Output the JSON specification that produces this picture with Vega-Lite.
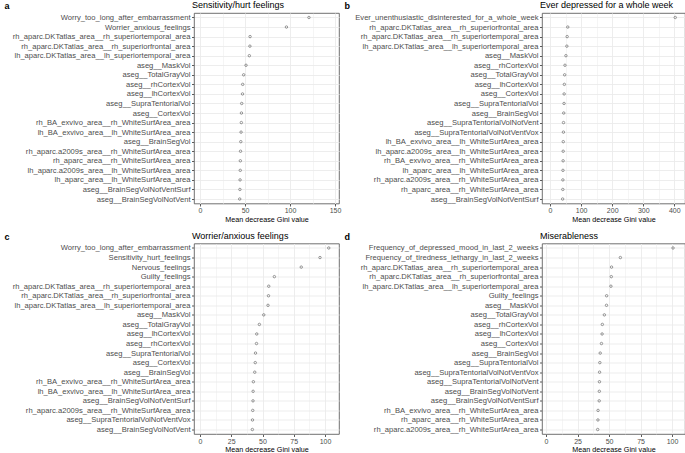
{
  "$schema": "https://vega.github.io/schema/vega-lite/v6.json",
  "padding": {"left": 3, "top": 0, "right": 0, "bottom": 0},
  "background": "white",
  "columns": 2,
  "bounds": "flush",
  "spacing": {"row": 39.5, "column": 203},
  "config": {
    "font": "Liberation Sans",
    "view": {"stroke": "#4d4d4d", "strokeWidth": 0.8},
    "axis": {
      "domain": false,
      "grid": true,
      "gridColor": "#ebebeb",
      "tickColor": "#333333",
      "tickSize": 2.5,
      "tickWidth": 0.8,
      "labelColor": "#4d4d4d",
      "labelFont": "Liberation Sans",
      "titleFont": "Liberation Sans",
      "titleFontWeight": "normal",
      "titleColor": "#000000"
    },
    "axisY": {
      "labelFontSize": 7.6,
      "labelPadding": 1.5,
      "labelLimit": 400,
      "gridWidth": 0.9,
      "titleAngle": 0,
      "titleAlign": "left",
      "titleBaseline": "middle",
      "titleFontWeight": "bold",
      "titleFontSize": 9,
      "titleY": -7.5
    },
    "axisX": {
      "labelFontSize": 7,
      "labelPadding": 0.5,
      "titleFontSize": 7.2,
      "titlePadding": 1.5
    },
    "title": {"anchor": "start", "frame": "group", "fontSize": 9, "fontWeight": "normal", "offset": -8.5, "baseline": "bottom", "color": "#000000", "dx": -2},
    "point": {"shape": "circle", "filled": false, "size": 6, "strokeWidth": 0.7, "color": "#333333"}
  },
  "datasets": {
    "a": [
      {"variable": "Worry_too_long_after_embarrassment", "gini": 121},
      {"variable": "Worrier_anxious_feelings", "gini": 96},
      {"variable": "rh_aparc.DKTatlas_area__rh_superiortemporal_area", "gini": 55.6},
      {"variable": "rh_aparc.DKTatlas_area__rh_superiorfrontal_area", "gini": 55.4},
      {"variable": "lh_aparc.DKTatlas_area__lh_superiortemporal_area", "gini": 54.8},
      {"variable": "aseg__MaskVol", "gini": 51.1},
      {"variable": "aseg__TotalGrayVol", "gini": 48.5},
      {"variable": "aseg__rhCortexVol", "gini": 47.4},
      {"variable": "aseg__lhCortexVol", "gini": 47.2},
      {"variable": "aseg__SupraTentorialVol", "gini": 46.3},
      {"variable": "aseg__CortexVol", "gini": 46.0},
      {"variable": "rh_BA_exvivo_area__rh_WhiteSurfArea_area", "gini": 45.9},
      {"variable": "lh_BA_exvivo_area__lh_WhiteSurfArea_area", "gini": 45.6},
      {"variable": "aseg__BrainSegVol", "gini": 45.3},
      {"variable": "rh_aparc.a2009s_area__rh_WhiteSurfArea_area", "gini": 45.0},
      {"variable": "rh_aparc_area__rh_WhiteSurfArea_area", "gini": 44.8},
      {"variable": "lh_aparc.a2009s_area__lh_WhiteSurfArea_area", "gini": 44.7},
      {"variable": "lh_aparc_area__lh_WhiteSurfArea_area", "gini": 44.5},
      {"variable": "aseg__BrainSegVolNotVentSurf", "gini": 44.3},
      {"variable": "aseg__BrainSegVolNotVent", "gini": 44.1}
    ],
    "b": [
      {"variable": "Ever_unenthusiastic_disinterested_for_a_whole_week", "gini": 403},
      {"variable": "rh_aparc.DKTatlas_area__rh_superiorfrontal_area", "gini": 57},
      {"variable": "rh_aparc.DKTatlas_area__rh_superiortemporal_area", "gini": 55},
      {"variable": "lh_aparc.DKTatlas_area__lh_superiortemporal_area", "gini": 54},
      {"variable": "aseg__MaskVol", "gini": 51},
      {"variable": "aseg__rhCortexVol", "gini": 48},
      {"variable": "aseg__TotalGrayVol", "gini": 47},
      {"variable": "aseg__lhCortexVol", "gini": 46},
      {"variable": "aseg__CortexVol", "gini": 45.3},
      {"variable": "aseg__SupraTentorialVol", "gini": 45},
      {"variable": "aseg__BrainSegVol", "gini": 44},
      {"variable": "aseg__SupraTentorialVolNotVent", "gini": 43.3},
      {"variable": "aseg__SupraTentorialVolNotVentVox", "gini": 43},
      {"variable": "lh_BA_exvivo_area__lh_WhiteSurfArea_area", "gini": 42.5},
      {"variable": "lh_aparc.a2009s_area__lh_WhiteSurfArea_area", "gini": 42.2},
      {"variable": "rh_BA_exvivo_area__rh_WhiteSurfArea_area", "gini": 42},
      {"variable": "lh_aparc_area__lh_WhiteSurfArea_area", "gini": 41.5},
      {"variable": "rh_aparc.a2009s_area__rh_WhiteSurfArea_area", "gini": 41.2},
      {"variable": "rh_aparc_area__rh_WhiteSurfArea_area", "gini": 41},
      {"variable": "aseg__BrainSegVolNotVentSurf", "gini": 40.5}
    ],
    "c": [
      {"variable": "Worry_too_long_after_embarrassment", "gini": 103},
      {"variable": "Sensitivity_hurt_feelings", "gini": 96},
      {"variable": "Nervous_feelings", "gini": 81},
      {"variable": "Guilty_feelings", "gini": 59.5},
      {"variable": "rh_aparc.DKTatlas_area__rh_superiortemporal_area", "gini": 55},
      {"variable": "rh_aparc.DKTatlas_area__rh_superiorfrontal_area", "gini": 54.8},
      {"variable": "lh_aparc.DKTatlas_area__lh_superiortemporal_area", "gini": 54.4},
      {"variable": "aseg__MaskVol", "gini": 51},
      {"variable": "aseg__TotalGrayVol", "gini": 47.5},
      {"variable": "aseg__lhCortexVol", "gini": 45.4},
      {"variable": "aseg__rhCortexVol", "gini": 45.2},
      {"variable": "aseg__SupraTentorialVol", "gini": 44.4},
      {"variable": "aseg__CortexVol", "gini": 44.2},
      {"variable": "aseg__BrainSegVol", "gini": 43.8},
      {"variable": "rh_BA_exvivo_area__rh_WhiteSurfArea_area", "gini": 42.7},
      {"variable": "lh_BA_exvivo_area__lh_WhiteSurfArea_area", "gini": 42.5},
      {"variable": "aseg__BrainSegVolNotVentSurf", "gini": 42.4},
      {"variable": "rh_aparc.a2009s_area__rh_WhiteSurfArea_area", "gini": 42.2},
      {"variable": "aseg__SupraTentorialVolNotVentVox", "gini": 42.0},
      {"variable": "aseg__BrainSegVolNotVent", "gini": 41.9}
    ],
    "d": [
      {"variable": "Frequency_of_depressed_mood_in_last_2_weeks", "gini": 100.8},
      {"variable": "Frequency_of_tiredness_lethargy_in_last_2_weeks", "gini": 59},
      {"variable": "rh_aparc.DKTatlas_area__rh_superiortemporal_area", "gini": 52},
      {"variable": "rh_aparc.DKTatlas_area__rh_superiorfrontal_area", "gini": 51.8},
      {"variable": "lh_aparc.DKTatlas_area__lh_superiortemporal_area", "gini": 51.5},
      {"variable": "Guilty_feelings", "gini": 48.1},
      {"variable": "aseg__MaskVol", "gini": 48},
      {"variable": "aseg__TotalGrayVol", "gini": 46.3},
      {"variable": "aseg__rhCortexVol", "gini": 44.7},
      {"variable": "aseg__lhCortexVol", "gini": 44.5},
      {"variable": "aseg__CortexVol", "gini": 44},
      {"variable": "aseg__BrainSegVol", "gini": 43},
      {"variable": "aseg__SupraTentorialVol", "gini": 42.7},
      {"variable": "aseg__SupraTentorialVolNotVentVox", "gini": 42.5},
      {"variable": "aseg__SupraTentorialVolNotVent", "gini": 42.4},
      {"variable": "aseg__BrainSegVolNotVent", "gini": 42.3},
      {"variable": "aseg__BrainSegVolNotVentSurf", "gini": 42.2},
      {"variable": "rh_BA_exvivo_area__rh_WhiteSurfArea_area", "gini": 41.3},
      {"variable": "rh_aparc_area__rh_WhiteSurfArea_area", "gini": 41.2},
      {"variable": "rh_aparc.a2009s_area__rh_WhiteSurfArea_area", "gini": 41}
    ]
  },
  "concat": [
    {
      "title": {"text": "Sensitivity/hurt feelings"},
      "width": 145, "height": 190.5,
      "data": {"name": "a"},
      "mark": {"type": "point"},
      "encoding": {
        "y": {"field": "variable", "type": "nominal", "sort": null, "scale": {"padding": 0.47},
              "axis": {"title": "a", "titleX": -190}},
        "x": {"field": "gini", "type": "quantitative", "scale": {"domain": [-6.7, 154.4], "nice": false, "zero": false},
              "axis": {"title": "Mean decrease Gini value", "values": [0, 25, 50, 75, 100, 125, 150],
                       "labelExpr": "datum.value % 50 === 0 ? datum.label : ''",
                       "tickOpacity": {"condition": {"test": "datum.value % 50 !== 0", "value": 0}, "value": 1},
                       "gridWidth": {"condition": {"test": "datum.value % 50 !== 0", "value": 0.5}, "value": 0.9}}}
      }
    },
    {
      "title": {"text": "Ever depressed for a whole week"},
      "width": 143, "height": 190.5,
      "data": {"name": "b"},
      "mark": {"type": "point"},
      "encoding": {
        "y": {"field": "variable", "type": "nominal", "sort": null, "scale": {"padding": 0.47},
              "axis": {"title": "b", "titleX": -198}},
        "x": {"field": "gini", "type": "quantitative", "scale": {"domain": [-26, 434.4], "nice": false, "zero": false},
              "axis": {"title": "Mean decrease Gini value", "values": [0, 50, 100, 150, 200, 250, 300, 350, 400],
                       "labelExpr": "datum.value % 100 === 0 ? datum.label : ''",
                       "tickOpacity": {"condition": {"test": "datum.value % 100 !== 0", "value": 0}, "value": 1},
                       "gridWidth": {"condition": {"test": "datum.value % 100 !== 0", "value": 0.5}, "value": 0.9}}}
      }
    },
    {
      "title": {"text": "Worrier/anxious feelings"},
      "width": 145, "height": 190.5,
      "data": {"name": "c"},
      "mark": {"type": "point"},
      "encoding": {
        "y": {"field": "variable", "type": "nominal", "sort": null, "scale": {"padding": 0.47},
              "axis": {"title": "c", "titleX": -190}},
        "x": {"field": "gini", "type": "quantitative", "scale": {"domain": [-4.8, 111.2], "nice": false, "zero": false},
              "axis": {"title": "Mean decrease Gini value", "values": [0, 12.5, 25, 37.5, 50, 62.5, 75, 87.5, 100],
                       "labelExpr": "datum.value % 25 === 0 ? datum.label : ''",
                       "tickOpacity": {"condition": {"test": "datum.value % 25 !== 0", "value": 0}, "value": 1},
                       "gridWidth": {"condition": {"test": "datum.value % 25 !== 0", "value": 0.5}, "value": 0.9}}}
      }
    },
    {
      "title": {"text": "Miserableness"},
      "width": 143, "height": 190.5,
      "data": {"name": "d"},
      "mark": {"type": "point"},
      "encoding": {
        "y": {"field": "variable", "type": "nominal", "sort": null, "scale": {"padding": 0.47},
              "axis": {"title": "d", "titleX": -198}},
        "x": {"field": "gini", "type": "quantitative", "scale": {"domain": [-3.2, 110.3], "nice": false, "zero": false},
              "axis": {"title": "Mean decrease Gini value", "values": [0, 12.5, 25, 37.5, 50, 62.5, 75, 87.5, 100],
                       "labelExpr": "datum.value % 25 === 0 ? datum.label : ''",
                       "tickOpacity": {"condition": {"test": "datum.value % 25 !== 0", "value": 0}, "value": 1},
                       "gridWidth": {"condition": {"test": "datum.value % 25 !== 0", "value": 0.5}, "value": 0.9}}}
      }
    }
  ]
}
